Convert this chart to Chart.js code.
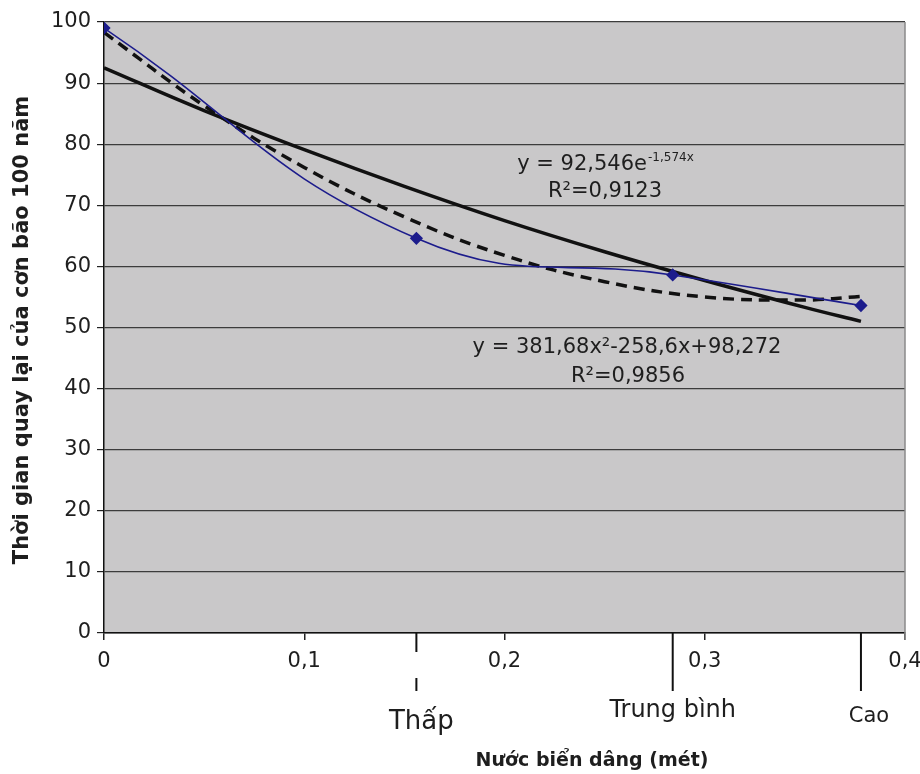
<!DOCTYPE html>
<html>
<head>
<meta charset="utf-8">
<script src="https://cdn.jsdelivr.net/npm/chart.js"></script>
<style>
  html, body { margin: 0; padding: 0; background: #fff; }
  #wrap { width: 920px; height: 774px; }
</style>
</head>
<body>
<div id="wrap"><canvas id="chart" width="920" height="774"></canvas></div>
<script>
// values
const waterLevel = [0, 0.156, 0.284, 0.378];
const returnPeriod = [99, 64.6, 58.6, 53.6];

const trendX = [0, 0.05, 0.1, 0.15, 0.2, 0.25, 0.3, 0.35, 0.378];
const expTrend = [92.5, 85.5, 79.1, 73.1, 67.5, 62.4, 57.7, 53.3, 51.0];
const polyTrend = [98.3, 86.3, 76.2, 68.1, 61.8, 57.5, 55.0, 54.5, 55.1];

const xTicks = ['0', '0,1', '0,2', '0,3', '0,4'];
const levelNames = ['Thấp', 'Trung bình', 'Cao'];
const levelX = [0.156, 0.284, 0.378];

const yTitle = 'Thời gian quay lại của cơn bão 100 năm';
const xTitle = 'Nước biển dâng (mét)';

const FONT = '"DejaVu Sans", sans-serif';
const TEXT = '#1e1e1e';

function pts(xs, ys) {
  return xs.map((x, i) => ({ x: x, y: ys[i] }));
}

const decor = {
  id: 'decor',
  beforeDraw(chart) {
    const { ctx, chartArea: a } = chart;
    ctx.save();
    ctx.fillStyle = '#c9c8c9';
    ctx.fillRect(a.left, a.top, a.right - a.left, a.bottom - a.top);
    ctx.restore();
  },
  afterDraw(chart) {
    const { ctx, chartArea: a } = chart;
    const xs = chart.scales.x;
    ctx.save();

    // right border of plot area
    ctx.strokeStyle = '#8a8a8a';
    ctx.lineWidth = 1.5;
    ctx.beginPath();
    ctx.moveTo(a.right, a.top);
    ctx.lineTo(a.right, a.bottom + 7);
    ctx.stroke();

    // level markers under the axis
    const labelFont = [26, 24, 21];
    const labelDx = [5, 0, 8];
    const labelBase = [729, 717, 722];
    levelX.forEach((v, i) => {
      const px = xs.getPixelForValue(v);
      ctx.strokeStyle = '#111';
      ctx.lineWidth = 2;
      ctx.setLineDash(i === 0 ? [19, 26] : []);
      ctx.beginPath();
      ctx.moveTo(px, a.bottom);
      ctx.lineTo(px, 691);
      ctx.stroke();
      ctx.setLineDash([]);
      ctx.fillStyle = TEXT;
      ctx.font = labelFont[i] + 'px ' + FONT;
      ctx.textAlign = 'center';
      ctx.textBaseline = 'alphabetic';
      ctx.fillText(levelNames[i], px + labelDx[i], labelBase[i]);
    });

    // axis titles
    ctx.fillStyle = TEXT;
    ctx.font = 'bold 21px ' + FONT;
    ctx.textAlign = 'center';
    ctx.textBaseline = 'middle';
    ctx.save();
    ctx.translate(23, 330);
    ctx.rotate(-Math.PI / 2);
    ctx.fillText(yTitle, 0, 0);
    ctx.restore();
    ctx.font = 'bold 19px ' + FONT;
    ctx.fillText(xTitle, 592, 761);

    // trendline equations
    ctx.textBaseline = 'alphabetic';
    const big = '21px ' + FONT;
    const small = '12px ' + FONT;
    ctx.font = big;
    const main1 = 'y = 92,546e';
    const sup1 = '-1,574x';
    const w1 = ctx.measureText(main1).width;
    ctx.font = small;
    const w2 = ctx.measureText(sup1).width;
    const left1 = 605 - (w1 + w2) / 2;
    ctx.font = big;
    ctx.textAlign = 'left';
    ctx.fillText(main1, left1, 170);
    ctx.font = small;
    ctx.fillText(sup1, left1 + w1 + 1, 161);
    ctx.font = big;
    ctx.textAlign = 'center';
    ctx.fillText('R²=0,9123', 605, 197);

    ctx.fillText('y = 381,68x²-258,6x+98,272', 627, 353);
    ctx.fillText('R²=0,9856', 628, 382);

    ctx.restore();
  }
};

new Chart(document.getElementById('chart'), {
  type: 'scatter',
  data: {
    datasets: [
      {
        label: 'exp',
        data: pts(trendX, expTrend),
        showLine: true,
        borderColor: '#111',
        borderWidth: 3.5,
        pointRadius: 0,
        tension: 0.4,
        order: 3
      },
      {
        label: 'poly',
        data: pts(trendX, polyTrend),
        showLine: true,
        borderColor: '#111',
        borderWidth: 3.5,
        borderDash: [11, 7],
        pointRadius: 0,
        tension: 0.4,
        order: 2
      },
      {
        label: 'data',
        data: pts(waterLevel, returnPeriod),
        showLine: true,
        borderColor: '#1c1c8c',
        backgroundColor: '#1c1c8c',
        borderWidth: 1.6,
        pointStyle: 'rectRot',
        pointRadius: 5.5,
        tension: 0.45,
        order: 1
      }
    ]
  },
  options: {
    responsive: false,
    animation: false,
    layout: { padding: { left: 0, right: 15, top: 22, bottom: 0 } },
    plugins: { legend: { display: false }, tooltip: { enabled: false } },
    scales: {
      x: {
        type: 'linear',
        min: 0,
        max: 0.4,
        afterFit(s) { s.height = 141; s.paddingRight = 0; s.paddingLeft = 0; },
        afterBuildTicks(s) {
          s.ticks = xTicks.map((t, i) => ({ value: i * 0.1 }));
        },
        ticks: {
          callback: (v, i) => xTicks[i],
          font: { family: FONT, size: 21 },
          color: TEXT,
          padding: 9,
          maxRotation: 0
        },
        grid: { drawOnChartArea: false, tickLength: 7, color: '#222', lineWidth: 1.5 },
        border: { color: '#111', width: 1.5 }
      },
      y: {
        min: 0,
        max: 100,
        afterFit(s) { s.width = 104; s.paddingTop = 0; },
        ticks: {
          stepSize: 10,
          font: { family: FONT, size: 21 },
          color: TEXT,
          padding: 6
        },
        grid: { color: '#3c3c3c', lineWidth: 1.2, tickLength: 7, tickColor: '#222' },
        border: { color: '#111', width: 1.5 }
      }
    }
  },
  plugins: [decor]
});
</script>
</body>
</html>
